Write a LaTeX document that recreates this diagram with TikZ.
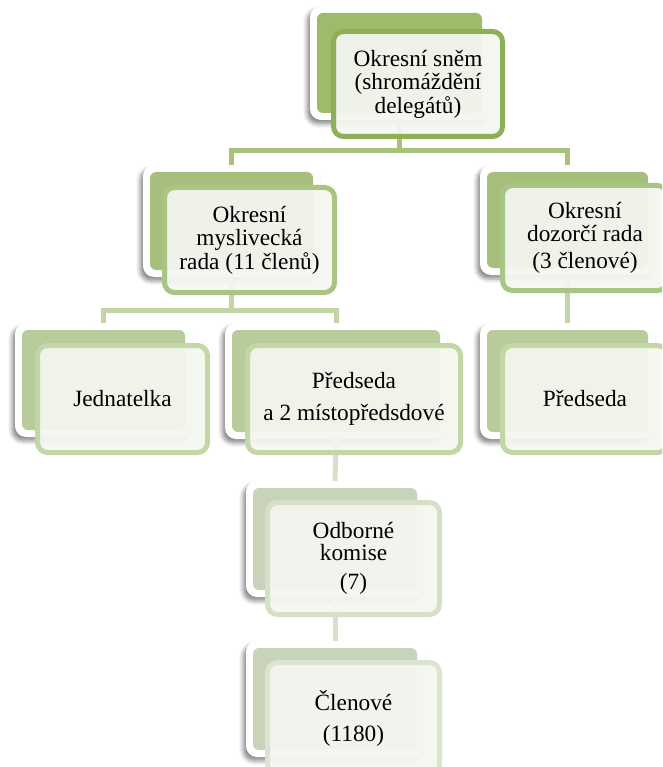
\documentclass[tikz,border=0pt]{standalone}
\usepackage{fontspec}
\setmainfont{Liberation Serif}
\usetikzlibrary{shadows.blur}
\definecolor{frontfill}{HTML}{F4F6F0}
\definecolor{backA}{HTML}{9EBB6B}
\definecolor{bordA}{HTML}{8DAF57}
\definecolor{backB}{HTML}{A6BF7C}
\definecolor{bordB}{HTML}{A9C583}
\definecolor{backC}{HTML}{B8CB9A}
\definecolor{bordC}{HTML}{C3D6A6}
\definecolor{backD}{HTML}{C8D3BA}
\definecolor{bordD}{HTML}{D5E1C6}
\definecolor{bordE}{HTML}{DAE4CF}
\definecolor{linkA}{HTML}{A7C27B}
\definecolor{linkB}{HTML}{C3D5A6}
\definecolor{linkC}{HTML}{D6E0CA}
\tikzset{
  wframe/.style={fill=white, rounded corners=11pt, inner sep=0pt, outer sep=0pt,
    blur shadow={shadow xshift=-3pt, shadow yshift=-4pt, shadow blur radius=4pt, shadow opacity=45}},
  backbox/.style={rounded corners=6pt, inner sep=0pt, outer sep=0pt},
  frontbox/.style={rounded corners=10pt, line width=5pt, fill=frontfill, fill opacity=0.94,
    text opacity=1, inner sep=0pt, outer sep=0pt, align=center,
    font=\fontsize{23.3}{23.5}\selectfont},
  link/.style={line width=5pt}
}
\begin{document}
\begin{tikzpicture}[x=1pt,y=-1pt]
\useasboundingbox (0,0) rectangle (662,767);
\clip (0,0) rectangle (662,767);
\coordinate (j1) at (400,151);
\coordinate (j2) at (220,310);
% ---- unit 1
\node[wframe, minimum width=179pt, minimum height=114pt] (f1) at (399.5,63) {};
\node[backbox, fill=backA, minimum width=165pt, minimum height=100pt] (b1) at (399.5,63) {};
% ---- unit 2
\node[wframe, minimum width=177pt, minimum height=112pt] (f2) at (231.5,221) {};
\node[backbox, fill=backB, minimum width=163pt, minimum height=98pt] (b2) at (231.5,221) {};
% ---- unit 3
\node[wframe, minimum width=175pt, minimum height=110pt] (f3) at (567.5,220) {};
\node[backbox, fill=backB, minimum width=161pt, minimum height=96pt] (b3) at (567.5,220) {};
% ---- unit 4
\node[wframe, minimum width=177pt, minimum height=114pt] (f4) at (103.5,380) {};
\node[backbox, fill=backC, minimum width=163pt, minimum height=100pt] (b4) at (103.5,380) {};
% ---- unit 5
\node[wframe, minimum width=222pt, minimum height=116pt] (f5) at (336,381) {};
\node[backbox, fill=backC, minimum width=208pt, minimum height=102pt] (b5) at (336,381) {};
% ---- unit 6
\node[wframe, minimum width=175pt, minimum height=116pt] (f6) at (567.5,381) {};
\node[backbox, fill=backC, minimum width=161pt, minimum height=102pt] (b6) at (567.5,381) {};
% ---- unit 7
\node[wframe, minimum width=178pt, minimum height=116pt] (f7) at (335,539) {};
\node[backbox, fill=backD, minimum width=164pt, minimum height=102pt] (b7) at (335,539) {};
% ---- unit 8
\node[wframe, minimum width=178pt, minimum height=116pt] (f8) at (335,699) {};
\node[backbox, fill=backD, minimum width=164pt, minimum height=102pt] (b8) at (335,699) {};
% ---- links
\begin{scope}[link]
\draw[linkA] (f1.south -| b1.south) -- (b1.south |- j1) -| (f2.north -| b2.north);
\draw[linkA] (b1.south |- j1) -| (f3.north -| b3.north);
\draw[linkB] (f2.south -| b2.south) -- (b2.south |- j2) -| (f4.north -| b4.north);
\draw[linkB] (b2.south |- j2) -| (f5.north -| b5.north);
\draw[linkB] (f3.south -| b3.south) -- (f6.north -| b6.north);
\draw[linkC] (f5.south -| b5.south) -- (f7.north -| b7.north);
\draw[linkC] (f7.south -| b7.south) -- (f8.north -| b8.north);
\end{scope}
% ---- fronts
\node[frontbox, draw=bordA, minimum width=169pt, minimum height=105pt] (n1) at (418,84)
  {Okresní sněm\\(shromáždění\\delegátů)};
\node[frontbox, draw=bordB, minimum width=170pt, minimum height=105pt] (n2) at (249.5,240)
  {Okresní\\myslivecká\\rada (11 členů)};
\node[frontbox, draw=bordB, minimum width=165pt, minimum height=105pt] (n3) at (585,238)
  {Okresní\\[-0.5pt]dozorčí rada\\[3pt](3 členové)};
\node[frontbox, draw=bordC, minimum width=170pt, minimum height=107pt] (n4) at (122.5,399)
  {Jednatelka};
\node[frontbox, draw=bordC, minimum width=213pt, minimum height=107pt] (n5) at (354,399)
  {Předseda\\[8pt]a 2 místopředsdové};
\node[frontbox, draw=bordC, minimum width=165pt, minimum height=107pt] (n6) at (585,399)
  {Předseda};
\node[frontbox, draw=bordD, minimum width=172pt, minimum height=112pt] (n7) at (353.5,558.5)
  {Odborné\\[-2pt]komise\\[6pt](7)};
\node[frontbox, draw=bordE, minimum width=172pt, minimum height=112pt] (n8) at (353.5,718.5)
  {Členové\\[8pt](1180)};
\end{tikzpicture}
\end{document}
